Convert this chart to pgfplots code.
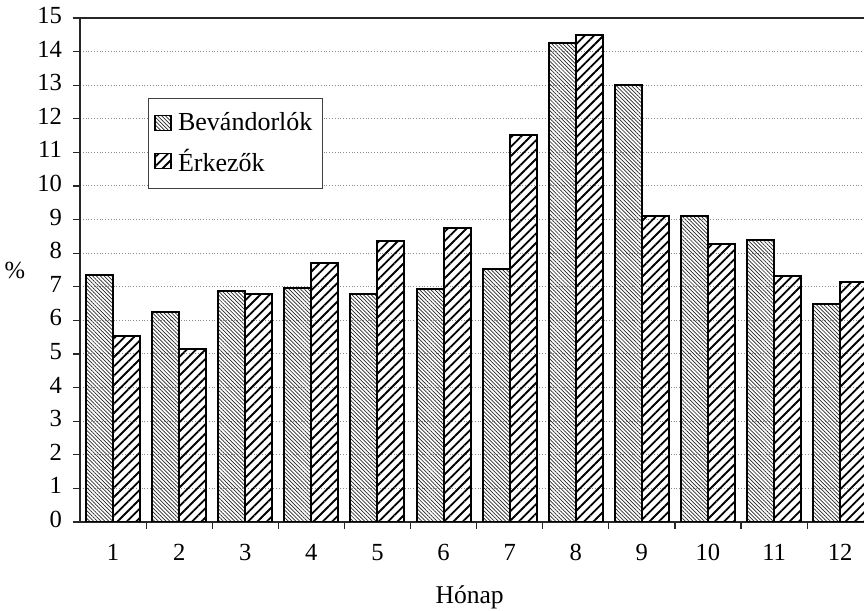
\documentclass[border=0pt]{standalone}
\usepackage{fontspec}
\setmainfont{Liberation Serif}
\usepackage{pgfplots}
\pgfplotsset{compat=1.18}
\usetikzlibrary{patterns.meta}

\begin{document}
\begin{tikzpicture}
\begin{axis}[
  name=ax,
  scale only axis, width=392pt, height=252pt,
  ybar=0pt, bar width=13.5pt,
  legend image code/.code={\draw[#1, line width=0.6pt] (0pt,-3.75pt) rectangle (8pt,3.75pt); \path (9pt,0pt);},
  xmin=0.5, xmax=12.36, ymin=0, ymax=15,
  axis x line*=box, axis y line*=left,
  axis line style={black!85, line width=0.8pt},
  xtick pos=bottom, ytick pos=left,
  ytick={0,...,15},
  yticklabels={0,1,2,3,4,5,6,7,8,9,10,11,12,13,14,15},
  xtick={1.5,2.5,...,11.5}, xticklabels={},
  extra x ticks={1,...,12},
  extra x tick labels={1,2,3,4,5,6,7,8,9,10,11,12},
  extra x tick style={major tick length=0pt, xticklabel style={yshift=-6pt}},
  typeset ticklabels with strut,
  tick align=outside, major tick length=3.5pt,
  tick style={black!85, line width=0.6pt},
  ymajorgrids, grid style={densely dotted, black!45, line width=0.5pt},
  ticklabel style={font=\fontsize{12.3}{14}\selectfont},
  yticklabel style={xshift=-2pt},
  ylabel={\%},
  every axis y label/.style={at={(axis description cs:-0.083,0.5)}, anchor=center, font=\fontsize{12.3}{14}\selectfont},
  xlabel={Hónap},
  every axis x label/.style={at={(axis description cs:0.497,-0.149)}, anchor=center, font=\fontsize{12.8}{15}\selectfont},
  legend style={at={(0.0867,0.841)}, anchor=north west, draw=black!75, line width=0.5pt,
    font=\fontsize{13}{15}\selectfont, row sep=3.5pt, inner xsep=3pt, inner ysep=5pt},
  legend cell align=left,
]
\addplot[draw=black, line width=1pt,
  pattern={Lines[angle=-45,distance=1.35pt,line width=0.35pt]}, pattern color=black!85]
  coordinates {(1,7.35) (2,6.26) (3,6.87) (4,6.97) (5,6.80) (6,6.93) (7,7.53) (8,14.27) (9,13.0) (10,9.1) (11,8.39) (12,6.49)};
\addlegendentry{Bevándorlók}
\addplot[draw=black, line width=1pt,
  pattern={Lines[angle=45,distance=3.3pt,line width=0.9pt]}, pattern color=black]
  coordinates {(1,5.55) (2,5.15) (3,6.80) (4,7.70) (5,8.36) (6,8.75) (7,11.52) (8,14.49) (9,9.1) (10,8.26) (11,7.32) (12,7.14)};
\addlegendentry{Érkezők}
\end{axis}
\pgfresetboundingbox
\path (ax.south west) ++(-40pt,-44.5pt) coordinate (bbA);
\path (ax.north east) ++(0pt,9pt) coordinate (bbB);
\path[use as bounding box] (bbA) rectangle (bbB);
\end{tikzpicture}
\end{document}
